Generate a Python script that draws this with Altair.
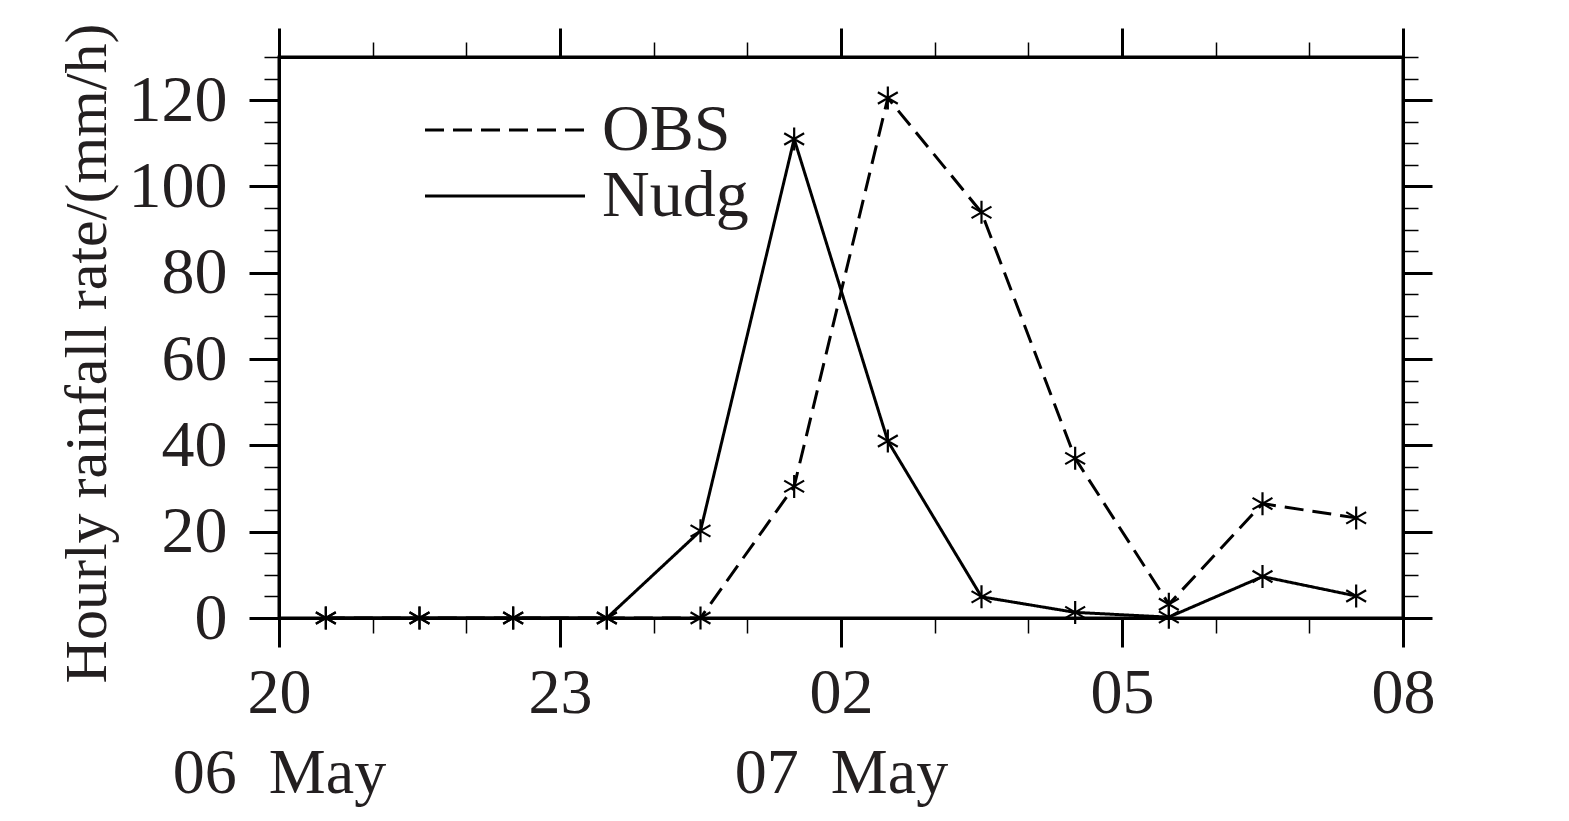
import altair as alt
import pandas as pd

# Hours after 06 May 20:00 (points at half past each hour)
HOURS = [0.5, 1.5, 2.5, 3.5, 4.5, 5.5, 6.5, 7.5, 8.5, 9.5, 10.5, 11.5]
OBS = [0, 0, 0, 0, 0, 30.5, 120.5, 94, 37, 3.2, 26.5, 23.2]
NUDG = [0, 0, 0, 0, 20.2, 111, 41, 4.9, 1.3, 0.2, 9.6, 5.1]
SERIES = ["OBS", "Nudg"]

X_TICKS = [0, 3, 6, 9, 12]
X_TICK_LABELS = ["20", "23", "02", "05", "08"]
DATE_LABELS = {0: "06\u00a0\u00a0May", 6: "07\u00a0\u00a0May"}
Y_TICKS = [0, 20, 40, 60, 80, 100, 120]

rows = []
for h, o, n in zip(HOURS, OBS, NUDG):
    rows.append({"hour": h, "value": o, "series": "OBS"})
    rows.append({"hour": h, "value": n, "series": "Nudg"})
df = pd.DataFrame(rows)

FONT = "Liberation Serif"
TXT = "#231f20"

# build label expression for x axis
parts = []
for v, lab in zip(X_TICKS, X_TICK_LABELS):
    if v in DATE_LABELS:
        parts.append(f"datum.value === {v} ? ['{lab}', '{DATE_LABELS[v]}']")
    else:
        parts.append(f"datum.value === {v} ? '{lab}'")
x_label_expr = " : ".join(parts) + " : ''"

x_major = "datum.value % 3 === 0"
y_major = "datum.value % 20 === 0"

def cond(test, a, b):
    return {"condition": {"test": test, "value": a}, "value": b}

x_scale = alt.Scale(domain=[0, 12], nice=False, zero=False)
y_scale = alt.Scale(domain=[0, 130], nice=False)

x_bottom = alt.Axis(
    orient="bottom", values=list(range(13)), labelExpr=x_label_expr,
    tickSize=cond(x_major, 29, 15), tickWidth=cond(x_major, 3, 1.5),
    tickColor="black", domainColor="black", domainWidth=3,
    labelFont=FONT, labelFontSize=64, labelColor=TXT, labelPadding=14,
    labelLineHeight=80, labelBaseline="top", labelAlign="center",
    labelOverlap=False, labelFlush=False, labelLimit=500, grid=False, title=None,
)
y_left = alt.Axis(
    orient="left", values=list(range(0, 131, 5)),
    labelExpr=f"{y_major} ? datum.label : ''",
    tickSize=cond(y_major, 30, 15), tickWidth=cond(y_major, 3, 1.5),
    tickColor="black", domainColor="black", domainWidth=3,
    labelFont=FONT, labelFontSize=66, labelColor=TXT, labelPadding=22,
    labelOverlap=False, labelFlush=False, grid=False,
    title="Hourly rainfall rate/(mm/h)", titleFont=FONT, titleFontSize=60,
    titleFontWeight="normal", titleColor=TXT, titlePadding=10, titleY=296,
)
x_top = alt.Axis(
    orient="top", values=list(range(13)), labels=False,
    tickSize=cond(x_major, 29, 15), tickWidth=cond(x_major, 3, 1.5),
    tickColor="black", domainColor="black", domainWidth=3, grid=False, title=None,
)
y_right = alt.Axis(
    orient="right", values=list(range(0, 131, 5)), labels=False,
    tickSize=cond(y_major, 29, 15), tickWidth=cond(y_major, 3, 1.5),
    tickColor="black", domainColor="black", domainWidth=3, grid=False, title=None,
)

lines = alt.Chart(df).mark_line(color="black", strokeWidth=3).encode(
    x=alt.X("hour:Q", scale=x_scale, axis=x_bottom),
    y=alt.Y("value:Q", scale=y_scale, axis=y_left),
    strokeDash=alt.StrokeDash(
        "series:N",
        scale=alt.Scale(domain=SERIES, range=[[19, 9], [1, 0]]),
        legend=alt.Legend(
            title=None, orient="none", legendX=133, legendY=40, padding=0,
            symbolType="M-1,0L7,0", symbolSize=1600, symbolStrokeWidth=3,
            symbolStrokeColor="black", symbolFillColor="transparent",
            labelFont=FONT, labelFontSize=66, labelColor=TXT,
            labelOffset=124, rowPadding=0, labelLimit=400,
        ),
    ),
    detail="series:N",
)

ASTERISK = "M0,-1L0,1M-0.866,-0.5L0.866,0.5M-0.866,0.5L0.866,-0.5"
points = alt.Chart(df).mark_point(
    shape=ASTERISK, size=529, filled=False, color="black", strokeWidth=2.2, opacity=1
).encode(
    x=alt.X("hour:Q", scale=x_scale, axis=None),
    y=alt.Y("value:Q", scale=y_scale, axis=None),
)

frame = alt.Chart(df).mark_point(opacity=0).encode(
    x=alt.X("hour:Q", scale=x_scale, axis=x_top),
    y=alt.Y("value:Q", scale=y_scale, axis=y_right),
)

chart = alt.layer(lines, points, frame).resolve_axis(
    x="independent", y="independent"
).properties(
    width=1124, height=561,
    autosize=alt.AutoSizeParams(type="none"),
    padding={"left": 271, "top": 49, "right": 120, "bottom": 190},
    background="white",
).configure_view(stroke="black", strokeWidth=3)

chart.save("out.html", embed_options={"renderer": "svg", "actions": False})
